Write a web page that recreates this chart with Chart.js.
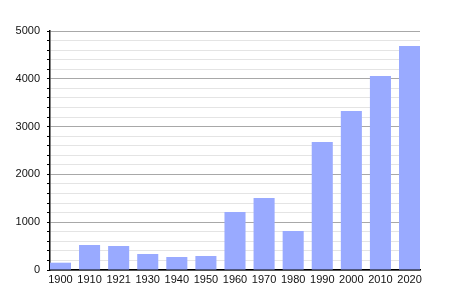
<!DOCTYPE html>
<html>
<head>
<meta charset="utf-8">
<script src="https://cdn.jsdelivr.net/npm/chart.js@4"></script>
<style>
  html,body{margin:0;padding:0;background:#fff;}
  #wrap{width:450px;height:300px;}
</style>
</head>
<body>
<div id="wrap"><canvas id="c" width="450" height="300"></canvas></div>
<script>
// Population par année de recensement
const years = ["1900","1910","1921","1930","1940","1950","1960","1970","1980","1990","2000","2010","2020"];
const population = [153,523,502,335,272,293,1213,1506,816,2678,3326,4059,4686];
const yMax = 5000;
const yMajor = 1000;   // lignes foncées + étiquettes
const yMinor = 200;    // lignes claires

const points = population.map((v,i)=>({x:i, y:v}));

new Chart(document.getElementById("c"), {
  type: "bar",
  data: { datasets: [{ data: points, backgroundColor: "#99aaff", borderWidth: 0,
    barPercentage: 0.724, categoryPercentage: 1 }] },
  options: {
    responsive: false, animation: false,
    layout: { padding: { left: 0, right: 30, top: 31, bottom: 0 } },
    plugins: { legend: { display: false }, tooltip: { enabled: false } },
    scales: {
      x: {
        type: "linear", min: -0.36, max: 12.36, offset: false,
        grid: { display: false, drawTicks: false },
        border: { color: "#000", width: 1.5 },
        ticks: { stepSize: 1, includeBounds: false, autoSkip: false, maxRotation: 0,
          color: "#111", font: { family: "Liberation Sans", size: 11 }, padding: 3,
          callback: v => Number.isInteger(v) ? years[v] : "" },
        afterFit: s => { s.height = 30; }
      },
      y: {
        min: 0, max: yMax,
        grid: { color: c => c.tick.value % yMajor === 0 ? "#a8a8a8" : "#e4e4e4",
          tickColor: "#000", tickLength: 3, lineWidth: 1 },
        border: { color: "#000", width: 1.5 },
        ticks: { stepSize: yMinor, autoSkip: false, color: "#111", padding: 7,
          font: { family: "Liberation Sans", size: 11 },
          callback: v => v % yMajor === 0 ? String(v) : "" },
        afterFit: s => { s.width = 50; }
      }
    }
  }
});
</script>
</body>
</html>
